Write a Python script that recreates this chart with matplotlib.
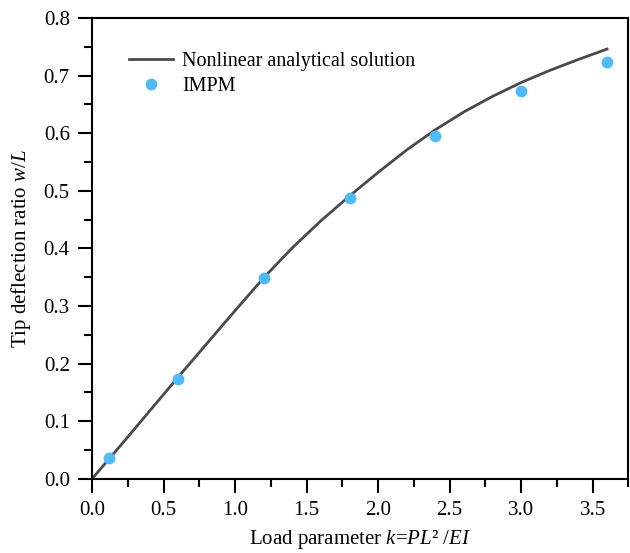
import matplotlib
matplotlib.use('Agg')
import matplotlib.pyplot as plt
from matplotlib.ticker import MultipleLocator

plt.rcParams['font.family'] = ['Liberation Serif', 'DejaVu Serif']
plt.rcParams['mathtext.fontset'] = 'custom'
plt.rcParams['mathtext.rm'] = 'Liberation Serif'
plt.rcParams['mathtext.it'] = 'Liberation Serif:italic'

# analytical curve
k_curve = [0.0, 0.2, 0.4, 0.6, 0.8, 1.0, 1.2, 1.4, 1.6, 1.8, 2.0, 2.2, 2.4, 2.6, 2.8, 3.0, 3.2, 3.4, 3.6]
w_curve = [0.0, 0.058, 0.117, 0.176, 0.234, 0.292, 0.349, 0.401, 0.448, 0.491, 0.532, 0.571,
           0.606, 0.637, 0.664, 0.688, 0.709, 0.728, 0.746]

# IMPM points
k_impm = [0.12, 0.6, 1.2, 1.8, 2.4, 3.0, 3.6]
w_impm = [0.036, 0.174, 0.348, 0.487, 0.596, 0.673, 0.723]

fig = plt.figure(figsize=(6.3, 5.53), dpi=100)
ax = fig.add_axes([0.146, 0.134, 0.8516, 0.8335])

ax.plot(k_curve, w_curve, color='#4a4a4a', lw=2.0, label='Nonlinear analytical solution', zorder=2)
ax.plot(k_impm, w_impm, 'o', color='#4cbbf7', markersize=8.5, markeredgewidth=0, label='IMPM', zorder=3)

ax.set_xlim(0, 3.75)
ax.set_ylim(0, 0.8)
ax.xaxis.set_major_locator(MultipleLocator(0.5))
ax.xaxis.set_minor_locator(MultipleLocator(0.25))
ax.yaxis.set_major_locator(MultipleLocator(0.1))
ax.yaxis.set_minor_locator(MultipleLocator(0.05))
ax.xaxis.set_major_formatter(plt.FormatStrFormatter('%.1f'))
ax.yaxis.set_major_formatter(plt.FormatStrFormatter('%.1f'))

ax.tick_params(which='major', direction='out', length=10, width=1.5, labelsize=15, pad=6)
ax.tick_params(which='minor', direction='out', length=5.5, width=1.5)
ax.tick_params(top=False, right=False, which='both')
for s in ax.spines.values():
    s.set_linewidth(1.5)

ax.set_xlabel(r'Load parameter $k$=$PL$² /$EI$', fontsize=15, labelpad=6)
ax.set_ylabel(r'Tip deflection ratio $w/L$', fontsize=15, labelpad=8)

ax.legend(loc='upper left', frameon=False, fontsize=14.5, bbox_to_anchor=(0.035, 0.965),
          handlelength=2.2, handletextpad=0.45, labelspacing=0.3)

fig.savefig('out.png', dpi=100)
